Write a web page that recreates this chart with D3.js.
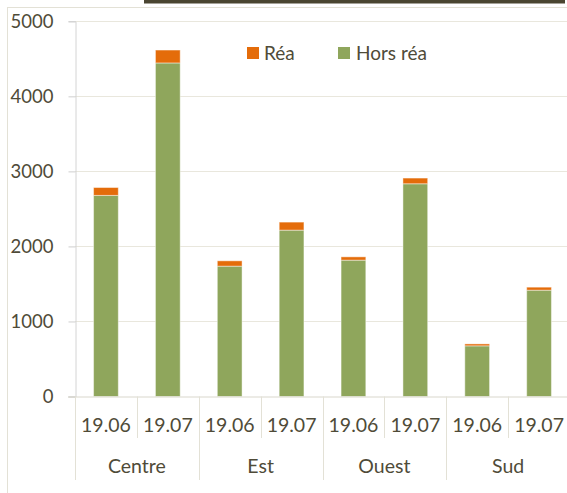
<!DOCTYPE html>
<html>
<head>
<meta charset="utf-8">
<script src="https://cdn.jsdelivr.net/npm/d3@7"></script>
<style>
  html, body { margin: 0; padding: 0; background: #fff; overflow: hidden; }
  svg { display: block; }
  text { font-family: Lato, "Open Sans", sans-serif; fill: #4f4b38; }
</style>
</head>
<body>
<svg id="chart" width="567" height="493"></svg>
<script>
const groups = ["Centre", "Est", "Ouest", "Sud"];
const periods = ["19.06", "19.07"];
const seriesNames = ["Réa", "Hors réa"];
const horsRea = [2680, 4445, 1737, 2217, 1817, 2835, 675, 1417];
const rea = [105, 172, 71, 107, 44, 76, 26, 40];
const yTicks = [0, 1000, 2000, 3000, 4000, 5000];
const colors = { "Réa": "#e46c0a", "Hors réa": "#8fa65c" };

const rows = [];
groups.forEach((g, gi) => periods.forEach((p, pi) => {
  const i = gi * periods.length + pi;
  rows.push({ key: g + "|" + p, group: g, period: p, "Hors réa": horsRea[i], "Réa": rea[i] });
}));

const svg = d3.select("#chart");
const mLeft = 75, mRight = 570, mTop = 21.3, mBottom = 396.5;

// outer frame and cut title underline
svg.append("rect").attr("x", 7.5).attr("y", 7.5).attr("width", 600).attr("height", 600)
  .attr("fill", "none").attr("stroke", "#e3e1d6").attr("stroke-width", 1);
svg.append("rect").attr("x", 144).attr("y", 0).attr("width", 421).attr("height", 3.5)
  .attr("fill", "#4a4531");

const x = d3.scaleBand().domain(rows.map(d => d.key)).range([mLeft, mRight]).padding(0);
const y = d3.scaleLinear().domain([0, 5000]).range([mBottom, mTop]);

// gridlines
svg.append("g").selectAll("line").data(yTicks.filter(t => t > 0)).join("line")
  .attr("x1", mLeft).attr("x2", mRight)
  .attr("y1", d => Math.round(y(d)) + 0.5).attr("y2", d => Math.round(y(d)) + 0.5)
  .attr("stroke", "#e9e7dd").attr("stroke-width", 1.2);

// y axis
const yAxis = svg.append("g").attr("transform", `translate(${mLeft + 0.5},0)`)
  .call(d3.axisLeft(y).tickValues(yTicks).tickSize(7).tickPadding(15).tickFormat(d3.format("d")));
yAxis.select(".domain").attr("stroke", "#d4d4d4");
yAxis.selectAll(".tick line").attr("stroke", "#cfcfcf");
yAxis.selectAll(".tick text").attr("font-size", 18.5).style("font-family", "Lato, sans-serif").attr("fill", "#4f4b38");

// stacked bars
const stack = d3.stack().keys(["Hors réa", "Réa"]);
const stacked = stack(rows);
const bw = x.bandwidth() * 0.4;
svg.append("g").selectAll("g").data(stacked).join("g")
  .attr("fill", d => colors[d.key])
  .selectAll("rect").data(d => d).join("rect")
  .attr("x", d => x(d.data.key) + (x.bandwidth() - bw) / 2)
  .attr("width", bw)
  .attr("y", d => y(d[1]))
  .attr("height", d => y(d[0]) - y(d[1]))
  .attr("stroke", "rgba(255,255,255,0.45)")
  .attr("stroke-width", 1);

// x axis line
svg.append("line").attr("x1", mLeft - 7).attr("x2", mRight)
  .attr("y1", mBottom + 0.5).attr("y2", mBottom + 0.5)
  .attr("stroke", "#d9d7cc");

// separators
const sep = svg.append("g").attr("stroke", "#e3e1d6");
rows.forEach((d, i) => {
  const xx = Math.round(x(d.key)) + 0.5;
  sep.append("line").attr("x1", xx).attr("x2", xx).attr("y1", mBottom)
    .attr("y2", i % periods.length === 0 ? 480 : 438);
});

// sub labels
svg.append("g").selectAll("text").data(rows).join("text")
  .attr("x", d => x(d.key) + x.bandwidth() / 2)
  .attr("y", 432)
  .attr("text-anchor", "middle").attr("font-size", 19.5)
  .text(d => d.period);

// group labels
const gw = x.bandwidth() * periods.length;
svg.append("g").selectAll("text").data(groups).join("text")
  .attr("x", (g, i) => mLeft + gw * i + gw / 2)
  .attr("y", 473)
  .attr("text-anchor", "middle").attr("font-size", 19.5)
  .text(d => d);

// legend
const legendPos = [{ x: 247, tx: 264 }, { x: 338, tx: 356 }];
const lg = svg.append("g");
seriesNames.forEach((s, i) => {
  lg.append("rect").attr("x", legendPos[i].x).attr("y", 47).attr("width", 12).attr("height", 12)
    .attr("fill", colors[s]);
  lg.append("text").attr("x", legendPos[i].tx).attr("y", 59.5).attr("font-size", 19).text(s);
});
</script>
</body>
</html>
